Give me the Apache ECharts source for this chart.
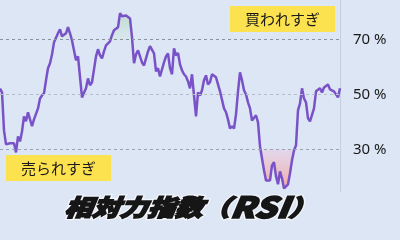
<!DOCTYPE html>
<html><head><meta charset="utf-8">
<script src="https://cdn.jsdelivr.net/npm/echarts@6/dist/echarts.min.js"></script>
<style>html,body{margin:0;padding:0;background:#dce6f4;}#c{width:400px;height:240px;}</style>
</head><body><div id="c"></div>
<script>
const rsi = [
52.1,50.7,36.9,31.8,31.5,32.2,32.9,32.2,28.9,34.7,
32.9,36.5,42.0,40.2,43.5,43.1,38.4,40.9,41.6,44.9,
48.5,49.6,50.4,55.1,59.5,61.3,64.5,68.9,69.6,72.2,
73.6,71.1,71.8,72.2,74.4,72.2,69.6,68.9,62.4,63.8,
63.1,48.9,48.9,52.2,55.8,53.3,54.4,59.1,63.8,66.4,
64.2,63.1,65.6,67.8,68.5,69.3,71.5,73.3,73.6,74.4,
79.5,78.4,79.1,78.7,78.4,77.6,70.7,61.3,64.5,66.0,
63.8,61.6,60.5,63.1,65.6,67.5,67.1,64.9,58.4,59.5,
56.5,59.1,61.6,63.8,64.9,59.5,57.3,66.7,64.2,65.0,
60.9,58.7,57.3,56.5,54.7,52.2,57.3,56.9,42.0,50.7,
49.6,51.5,55.1,56.9,53.6,54.4,57.3,58.0,56.2,55.8,
51.1,51.1,44.9,43.5,40.9,37.6,38.4,37.6,42.7,51.1,
58.0,55.1,51.5,50.0,47.1,44.9,40.5,39.8,42.4,39.8,
31.1,26.7,22.4,18.7,18.4,18.7,24.2,25.3,20.2,17.3,
22.0,19.5,15.8,15.1,17.3,21.3,26.0,29.6,31.5,44.2,
46.7,52.2,48.5,47.1,41.3,40.2,39.5,44.9,51.1,50.7,
52.2,50.7,52.5,52.5,53.6,51.8,52.2,51.1,50.4,48.9,52.2
];
const days = rsi.map((_, i) => 'D' + (i + 1));
const levels = [30, 50, 70];
const levelLabels = ['30 %', '50 %', '70 %'];
const oversoldLevel = 30;
const overboughtLevel = 70;
const titleMain = '相対力指数（';
const titleAbbr = 'RSI';
const titleEnd = '）';
const buyLabel = '買われすぎ';
const sellLabel = '売られすぎ';

const levelColors = {30: '#9aa3b0', 50: '#b4bcc8', 70: '#8a929e'};

function titleText(fill, stroke, lw, extra) {
  const seg = (size) => Object.assign({fontSize: size, fontFamily: 'Noto Sans CJK JP', fontWeight: 900,
    fontStyle: 'italic', fill: fill, stroke: stroke, lineWidth: lw}, extra || {});
  return {
    type: 'text', x: 191, y: 207, scaleX: 1.2, skewX: -0.12, originX: 0, originY: 0,
    style: Object.assign({
      text: '{a|' + titleMain + '}{b|' + titleAbbr + '}{a|' + titleEnd + '}',
      align: 'center', verticalAlign: 'middle',
      font: 'italic 900 23px "Noto Sans CJK JP"',
      fill: fill, stroke: stroke, lineWidth: lw,
      rich: {a: seg(23), b: seg(29)}
    }, extra || {})
  };
}

const chart = echarts.init(document.getElementById('c'), null, {renderer: 'canvas'});
chart.setOption({
  backgroundColor: '#dce6f4',
  animation: false,
  grid: {left: 0, right: 60, top: 0, bottom: 48},
  xAxis: {type: 'category', data: days, boundaryGap: false, show: false},
  yAxis: {
    type: 'value', min: 14.5, max: 84.3, position: 'right',
    axisLine: {show: true, lineStyle: {color: '#c6cfdb', width: 1}},
    axisTick: {show: false}, axisLabel: {show: false}, splitLine: {show: false}
  },
  graphic: [
    {type: 'group', left: 230, top: 6, children: [
      {type: 'rect', shape: {x: 0, y: 0, width: 105, height: 26}, style: {fill: '#fde24f'}},
      {type: 'text', x: 52.5, y: 13, style: {text: buyLabel, fill: '#1a1a1a', font: '15px "Noto Sans CJK JP"', align: 'center', verticalAlign: 'middle'}}
    ]},
    {type: 'group', left: 6, top: 155, children: [
      {type: 'rect', shape: {x: 0, y: 0, width: 105, height: 26}, style: {fill: '#fde24f'}},
      {type: 'text', x: 52.5, y: 13, style: {text: sellLabel, fill: '#1a1a1a', font: '15px "Noto Sans CJK JP"', align: 'center', verticalAlign: 'middle'}}
    ]},
    Object.assign(titleText('rgba(255,255,255,0.9)', 'rgba(255,255,255,0.6)', 4, {shadowColor: '#ffffff', shadowBlur: 18}), {z: 10}),
    Object.assign(titleText('#161616', '#161616', 1.6), {z: 11})
  ],
  series: [
    {
      type: 'line', data: rsi.map(v => Math.min(v, oversoldLevel)), symbol: 'none',
      lineStyle: {opacity: 0}, z: 1, silent: true,
      areaStyle: {origin: oversoldLevel, opacity: 1, color: new echarts.graphic.LinearGradient(0, 0, 0, 1, [
        {offset: 0, color: 'rgba(230,205,230,0.6)'}, {offset: 1, color: 'rgba(246,165,155,1)'}])}
    },
    {
      type: 'line', data: rsi.map(v => Math.max(v, overboughtLevel)), symbol: 'none',
      lineStyle: {opacity: 0}, z: 1, silent: true,
      areaStyle: {origin: overboughtLevel, opacity: 1, color: new echarts.graphic.LinearGradient(0, 0, 0, 1, [
        {offset: 0, color: 'rgba(175,215,190,0.75)'}, {offset: 1, color: 'rgba(205,230,215,0.2)'}])}
    },
    {
      type: 'line', data: rsi, symbol: 'none', z: 3,
      lineStyle: {color: '#7a52c8', width: 2.5},
      markLine: {
        silent: true, symbol: 'none',
        data: levels.map((lv, i) => ({
          yAxis: lv,
          lineStyle: {color: levelColors[lv], type: [3, 3], width: 1},
          label: {show: true, position: 'end', distance: 13, formatter: levelLabels[i],
            fontFamily: 'Noto Sans', fontSize: 15, color: '#1a1a1a'}
        }))
      }
    }
  ]
});
</script></body></html>
